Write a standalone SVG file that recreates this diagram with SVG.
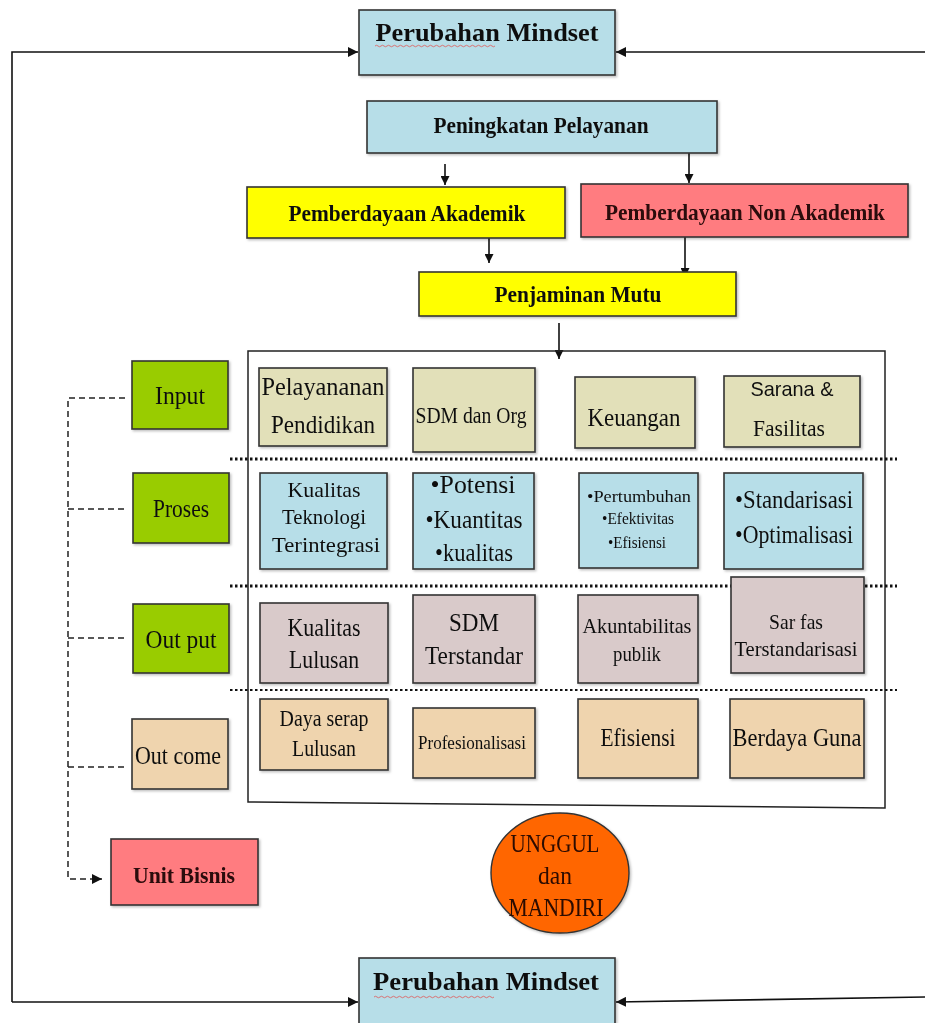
<svg xmlns="http://www.w3.org/2000/svg" width="925" height="1023" viewBox="0 0 925 1023">
<defs>
<style>
text{font-family:"Liberation Serif","Times New Roman",serif;fill:#111;text-anchor:middle}
.b{font-weight:bold}
.sans{font-family:"Liberation Sans",Arial,sans-serif}
.box{stroke:#333;stroke-width:1.6}
.blue{fill:#b7dee8}.yel{fill:#ffff00}.pink{fill:#ff7c80}.green{fill:#99cc00}
.khaki{fill:#e2e0b9}.mauve{fill:#d9caca}.tan{fill:#efd4ae}
.ln{stroke:#111;stroke-width:1.6;fill:none}
.dash{stroke:#222;stroke-width:1.5;fill:none;stroke-dasharray:6 4}
.dot{stroke:#111;fill:none;stroke-dasharray:2.5 2.5}
.wavy{stroke:#d66;stroke-width:0.9;fill:none}
</style>
<marker id="ah" viewBox="0 0 10 10" refX="10" refY="5" markerWidth="9" markerHeight="9" markerUnits="userSpaceOnUse" orient="auto">
<path d="M0,0 L10,5 L0,10 Z" fill="#111"/>
</marker>
<marker id="ahs" viewBox="0 0 10 10" refX="10" refY="5" markerWidth="10" markerHeight="10" markerUnits="userSpaceOnUse" orient="auto">
<path d="M0,0 L10,5 L0,10 Z" fill="#111"/>
</marker>
<filter id="sh" x="-5%" y="-5%" width="115%" height="120%">
<feDropShadow dx="1.5" dy="1.5" stdDeviation="1" flood-color="#000" flood-opacity="0.25"/>
</filter>
</defs>
<rect width="925" height="1023" fill="#fff"/>

<g id="connectors">
<path class="ln" d="M12,1002 L12,52 L358,52" marker-end="url(#ahs)"/>
<path class="ln" d="M12,1002 L358,1002" marker-end="url(#ahs)"/>
<path class="ln" d="M925,52 L616,52" marker-end="url(#ahs)"/>
<path class="ln" d="M925,997 L616,1002" marker-end="url(#ahs)"/>
<path class="ln" d="M445,164 L445,185" marker-end="url(#ah)"/>
<path class="ln" d="M689,153 L689,183" marker-end="url(#ah)"/>
<path class="ln" d="M489,238 L489,263" marker-end="url(#ah)"/>
<path class="ln" d="M685,237 L685,277" marker-end="url(#ah)"/>
<path class="ln" d="M559,323 L559,359" marker-end="url(#ah)"/>
<path class="dash" d="M125,398 L68,398 L68,879 L102,879" marker-end="url(#ahs)"/>
<path class="dash" d="M68,509 L125,509"/>
<path class="dash" d="M68,638 L125,638"/>
<path class="dash" d="M68,767 L125,767"/>
</g>

<g id="frame">
<path d="M248,351 L885,351 L885,808 L248,802 Z" fill="none" stroke="#222" stroke-width="1.5"/>
<line class="dot" x1="230" y1="459" x2="897" y2="459" stroke-width="3.2"/>
<line class="dot" x1="230" y1="586" x2="897" y2="586" stroke-width="2.8"/>
<line class="dot" x1="230" y1="690" x2="897" y2="690" stroke-width="2.2"/>
</g>

<g id="mindset-top" filter="url(#sh)">
<rect class="box blue" x="359" y="10" width="256" height="65"/>
<text class="b" x="487" y="41" font-size="25" textLength="223" lengthAdjust="spacingAndGlyphs">Perubahan Mindset</text>
<path class="wavy" d="M375,46 q1.5,-1.5 3,0 t3,0 t3,0 t3,0 t3,0 t3,0 t3,0 t3,0 t3,0 t3,0 t3,0 t3,0 t3,0 t3,0 t3,0 t3,0 t3,0 t3,0 t3,0 t3,0 t3,0 t3,0 t3,0 t3,0 t3,0 t3,0 t3,0 t3,0 t3,0 t3,0 t3,0 t3,0 t3,0 t3,0 t3,0 t3,0 t3,0 t3,0 t3,0 t3,0"/>
</g>

<g id="peningkatan" filter="url(#sh)">
<rect class="box blue" x="367" y="101" width="350" height="52"/>
<text class="b" x="541" y="133" font-size="23" textLength="215" lengthAdjust="spacingAndGlyphs">Peningkatan Pelayanan</text>
</g>

<g id="akademik" filter="url(#sh)">
<rect class="box yel" x="247" y="187" width="318" height="51"/>
<text class="b" x="407" y="221" font-size="24" textLength="237" lengthAdjust="spacingAndGlyphs">Pemberdayaan Akademik</text>
</g>

<g id="non-akademik" filter="url(#sh)">
<rect class="box pink" x="581" y="184" width="327" height="53"/>
<text class="b" x="745" y="220" font-size="24" textLength="280" lengthAdjust="spacingAndGlyphs" style="fill:#2a0808">Pemberdayaan Non Akademik</text>
</g>

<g id="penjaminan" filter="url(#sh)">
<rect class="box yel" x="419" y="272" width="317" height="44"/>
<text class="b" x="578" y="302" font-size="24" textLength="167" lengthAdjust="spacingAndGlyphs">Penjaminan Mutu</text>
</g>

<g id="input" filter="url(#sh)">
<rect class="box green" x="132" y="361" width="96" height="68"/>
<text x="180" y="404" font-size="25" textLength="50" lengthAdjust="spacingAndGlyphs">Input</text>
</g>
<g id="proses" filter="url(#sh)">
<rect class="box green" x="133" y="473" width="96" height="70"/>
<text x="181" y="517" font-size="25" textLength="56" lengthAdjust="spacingAndGlyphs">Proses</text>
</g>
<g id="output" filter="url(#sh)">
<rect class="box green" x="133" y="604" width="96" height="69"/>
<text x="181" y="648" font-size="26" textLength="71" lengthAdjust="spacingAndGlyphs">Out put</text>
</g>
<g id="outcome" filter="url(#sh)">
<rect class="box tan" x="132" y="719" width="96" height="70"/>
<text x="178" y="764" font-size="26" textLength="86" lengthAdjust="spacingAndGlyphs">Out come</text>
</g>

<g id="pelayanan-pendidikan" filter="url(#sh)">
<rect class="box khaki" x="259" y="368" width="128" height="78"/>
<text x="323" y="395" font-size="25" textLength="123" lengthAdjust="spacingAndGlyphs">Pelayananan</text>
<text x="323" y="433" font-size="25" textLength="104" lengthAdjust="spacingAndGlyphs">Pendidikan</text>
</g>
<g id="sdm-org" filter="url(#sh)">
<rect class="box khaki" x="413" y="368" width="122" height="84"/>
<text x="471" y="423" font-size="24" textLength="111" lengthAdjust="spacingAndGlyphs">SDM dan Org</text>
</g>
<g id="keuangan" filter="url(#sh)">
<rect class="box khaki" x="575" y="377" width="120" height="71"/>
<text x="634" y="426" font-size="25" textLength="93" lengthAdjust="spacingAndGlyphs">Keuangan</text>
</g>
<g id="sarana" filter="url(#sh)">
<rect class="box khaki" x="724" y="376" width="136" height="71"/>
<text class="sans" x="792" y="396" font-size="21" textLength="83" lengthAdjust="spacingAndGlyphs">Sarana &amp;</text>
<text x="789" y="436" font-size="24" textLength="72" lengthAdjust="spacingAndGlyphs">Fasilitas</text>
</g>

<g id="kualitas-teknologi" filter="url(#sh)">
<rect class="box blue" x="260" y="473" width="127" height="96"/>
<text x="324" y="497" font-size="22" textLength="73" lengthAdjust="spacingAndGlyphs">Kualitas</text>
<text x="324" y="524" font-size="22" textLength="84" lengthAdjust="spacingAndGlyphs">Teknologi</text>
<text x="326" y="552" font-size="22" textLength="108" lengthAdjust="spacingAndGlyphs">Terintegrasi</text>
</g>
<g id="potensi" filter="url(#sh)">
<rect class="box blue" x="413" y="473" width="121" height="96"/>
<text x="473" y="493" font-size="26" textLength="85" lengthAdjust="spacingAndGlyphs">•Potensi</text>
<text x="474" y="528" font-size="26" textLength="97" lengthAdjust="spacingAndGlyphs">•Kuantitas</text>
<text x="474" y="561" font-size="26" textLength="78" lengthAdjust="spacingAndGlyphs">•kualitas</text>
</g>
<g id="pertumbuhan" filter="url(#sh)">
<rect class="box blue" x="579" y="473" width="119" height="95"/>
<text x="639" y="502" font-size="16" textLength="104" lengthAdjust="spacingAndGlyphs">•Pertumbuhan</text>
<text x="638" y="524" font-size="16" textLength="72" lengthAdjust="spacingAndGlyphs">•Efektivitas</text>
<text x="637" y="548" font-size="16" textLength="58" lengthAdjust="spacingAndGlyphs">•Efisiensi</text>
</g>
<g id="standarisasi" filter="url(#sh)">
<rect class="box blue" x="724" y="473" width="139" height="96"/>
<text x="794" y="508" font-size="26" textLength="118" lengthAdjust="spacingAndGlyphs">•Standarisasi</text>
<text x="794" y="543" font-size="26" textLength="118" lengthAdjust="spacingAndGlyphs">•Optimalisasi</text>
</g>

<g id="kualitas-lulusan" filter="url(#sh)">
<rect class="box mauve" x="260" y="603" width="128" height="80"/>
<text x="324" y="636" font-size="26" textLength="73" lengthAdjust="spacingAndGlyphs">Kualitas</text>
<text x="324" y="668" font-size="26" textLength="70" lengthAdjust="spacingAndGlyphs">Lulusan</text>
</g>
<g id="sdm-terstandar" filter="url(#sh)">
<rect class="box mauve" x="413" y="595" width="122" height="88"/>
<text x="474" y="631" font-size="26" textLength="50" lengthAdjust="spacingAndGlyphs">SDM</text>
<text x="474" y="664" font-size="26" textLength="98" lengthAdjust="spacingAndGlyphs">Terstandar</text>
</g>
<g id="akuntabilitas" filter="url(#sh)">
<rect class="box mauve" x="578" y="595" width="120" height="88"/>
<text x="637" y="633" font-size="22" textLength="109" lengthAdjust="spacingAndGlyphs">Akuntabilitas</text>
<text x="637" y="661" font-size="22" textLength="48" lengthAdjust="spacingAndGlyphs">publik</text>
</g>
<g id="sarfas" filter="url(#sh)">
<rect class="box mauve" x="731" y="577" width="133" height="96"/>
<text x="796" y="629" font-size="22" textLength="54" lengthAdjust="spacingAndGlyphs">Sar fas</text>
<text x="796" y="656" font-size="22" textLength="123" lengthAdjust="spacingAndGlyphs">Terstandarisasi</text>
</g>

<g id="daya-serap" filter="url(#sh)">
<rect class="box tan" x="260" y="699" width="128" height="71"/>
<text x="324" y="726" font-size="23" textLength="89" lengthAdjust="spacingAndGlyphs">Daya serap</text>
<text x="324" y="756" font-size="23" textLength="64" lengthAdjust="spacingAndGlyphs">Lulusan</text>
</g>
<g id="profesionalisasi" filter="url(#sh)">
<rect class="box tan" x="413" y="708" width="122" height="70"/>
<text x="472" y="749" font-size="19" textLength="108" lengthAdjust="spacingAndGlyphs">Profesionalisasi</text>
</g>
<g id="efisiensi" filter="url(#sh)">
<rect class="box tan" x="578" y="699" width="120" height="79"/>
<text x="638" y="746" font-size="26" textLength="75" lengthAdjust="spacingAndGlyphs">Efisiensi</text>
</g>
<g id="berdaya-guna" filter="url(#sh)">
<rect class="box tan" x="730" y="699" width="134" height="79"/>
<text x="797" y="746" font-size="25" textLength="129" lengthAdjust="spacingAndGlyphs">Berdaya Guna</text>
</g>

<g id="unit-bisnis" filter="url(#sh)">
<rect class="box pink" x="111" y="839" width="147" height="66"/>
<text class="b" x="184" y="883" font-size="23" textLength="102" lengthAdjust="spacingAndGlyphs" style="fill:#2a0808">Unit Bisnis</text>
</g>

<g id="unggul" filter="url(#sh)">
<ellipse cx="560" cy="873" rx="69" ry="60" fill="#ff6600" stroke="#333" stroke-width="1.4"/>
<text x="555" y="852" font-size="25" textLength="89" lengthAdjust="spacingAndGlyphs" style="fill:#2a0800">UNGGUL</text>
<text x="555" y="884" font-size="25" textLength="34" lengthAdjust="spacingAndGlyphs" style="fill:#2a0800">dan</text>
<text x="556" y="916" font-size="25" textLength="95" lengthAdjust="spacingAndGlyphs" style="fill:#2a0800">MANDIRI</text>
</g>

<g id="mindset-bottom" filter="url(#sh)">
<rect class="box blue" x="359" y="958" width="256" height="70"/>
<text class="b" x="486" y="990" font-size="25" textLength="226" lengthAdjust="spacingAndGlyphs">Perubahan Mindset</text>
<path class="wavy" d="M374,997 q1.5,-1.5 3,0 t3,0 t3,0 t3,0 t3,0 t3,0 t3,0 t3,0 t3,0 t3,0 t3,0 t3,0 t3,0 t3,0 t3,0 t3,0 t3,0 t3,0 t3,0 t3,0 t3,0 t3,0 t3,0 t3,0 t3,0 t3,0 t3,0 t3,0 t3,0 t3,0 t3,0 t3,0 t3,0 t3,0 t3,0 t3,0 t3,0 t3,0 t3,0 t3,0"/>
</g>
</svg>
